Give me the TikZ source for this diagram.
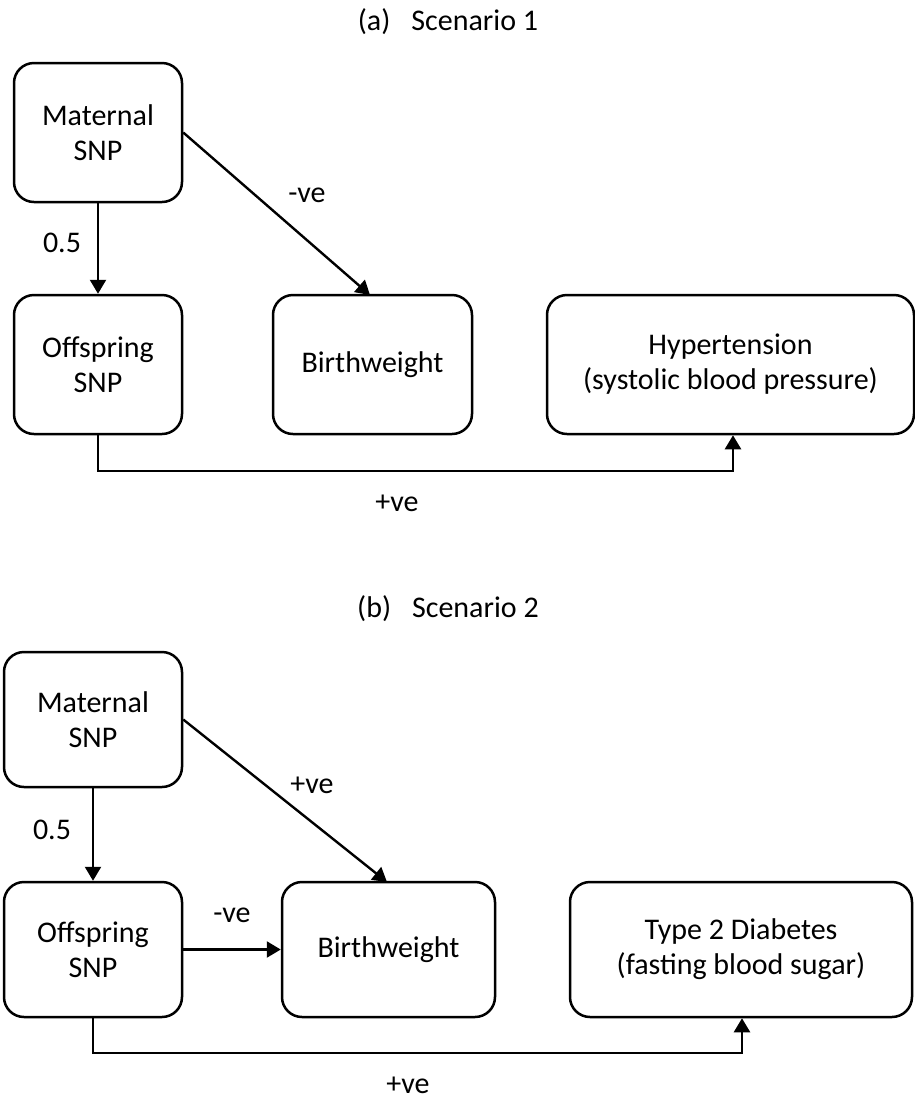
\documentclass[tikz,border=0pt]{standalone}
\usepackage{fontspec}
\setmainfont{Carlito}
\usepackage{tikz}
\usetikzlibrary{arrows.meta}

\begin{document}
\begin{tikzpicture}[
  x=0.5pt,
  y=-0.5pt,
  every node/.style={font=\fontsize{15}{17.5}\selectfont},
  box/.style={draw=black, line width=1.25pt, rounded corners=10pt, align=center, inner sep=0pt},
  link/.style={-{Triangle[length=7pt,width=8pt]}, draw=black, line width=1.2pt},
  lbl/.style={inner sep=1pt}
]
  \useasboundingbox (0,0) rectangle (915,1100);

  % (a) scenario 1
  \node (titleA) at (448,22) {(a)\hspace{0.7em}Scenario 1};
  \node[box, minimum width=84pt, minimum height=69.5pt] (matA) at (98,132.5) {Maternal\\SNP};
  \node[box, minimum width=84pt, minimum height=69.5pt] (offA) at (98,364.5) {Offspring\\SNP};
  \node[box, minimum width=99.5pt, minimum height=69.5pt] (bwA) at (372.5,364.5) {Birthweight};
  \node[box, minimum width=183.5pt, minimum height=69.5pt] (htA) at (730.5,364.5) {Hypertension\\(systolic blood pressure)};

  \coordinate (bwtopA) at (370,295);
  \coordinate (elbowA) at (733,471);
  \draw[link] (matA) -- (offA);
  \draw[link] (matA.east) -- (bwtopA);
  \draw[link] (offA.south) |- (elbowA) -- (elbowA |- htA.south);

  \node[lbl] (halfA) at (62,243) {0.5};
  \node[lbl] (negA) at (307,195) {-ve};
  \node[lbl] (posA) at (397,503) {+ve};

  % (b) scenario 2
  \node (titleB) at (448,609) {(b)\hspace{0.7em}Scenario 2};
  \node[box, minimum width=89pt, minimum height=67.5pt] (matB) at (93,719.5) {Maternal\\SNP};
  \node[box, minimum width=89pt, minimum height=67.5pt] (offB) at (93,949.5) {Offspring\\SNP};
  \node[box, minimum width=106.5pt, minimum height=67.5pt] (bwB) at (388.5,949.5) {Birthweight};
  \node[box, minimum width=171pt, minimum height=67.5pt] (t2dB) at (741,949.5) {Type 2 Diabetes\\(fasting blood sugar)};

  \coordinate (bwtopB) at (387,882);
  \coordinate (elbowB) at (742,1053);
  \draw[link] (matB) -- (offB);
  \draw[link] (matB.east) -- (bwtopB);
  \draw[link] (offB) -- (bwB);
  \draw[link] (offB.south) |- (elbowB) -- (elbowB |- t2dB.south);

  \node[lbl] (halfB) at (52,830) {0.5};
  \node[lbl] (posB) at (312,785) {+ve};
  \node[lbl] (negB) at (232,915) {-ve};
  \node[lbl] (posBB) at (408,1085) {+ve};
\end{tikzpicture}
\end{document}
